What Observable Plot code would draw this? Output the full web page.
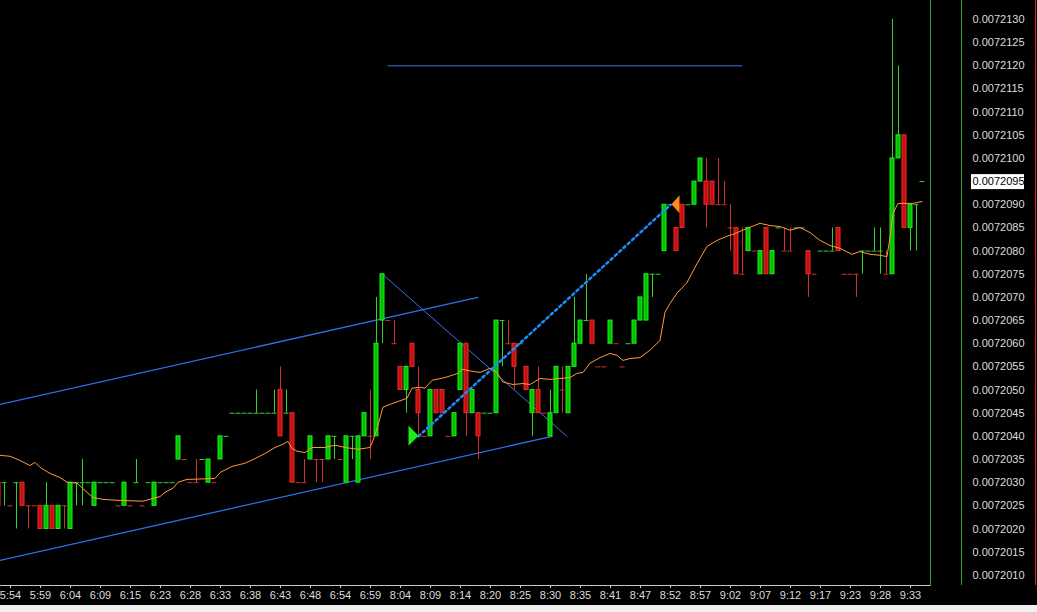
<!DOCTYPE html>
<html><head><meta charset="utf-8">
<script src="https://cdn.jsdelivr.net/npm/d3@7"></script>
<script src="https://cdn.jsdelivr.net/npm/@observablehq/plot@0.6"></script>
<style>
html,body{margin:0;padding:0;background:#f0f0f0;}
#chart svg{display:block;}
</style></head><body><div id="chart"></div>
<script>
// ---- data ----
const firstBar = -1;
const open = [
0.0072030,0.0072030,0.0072025,0.0072030,0.0072030,0.0072025,0.0072025,0.0072025,0.0072020,0.0072025,
0.0072020,0.0072025,0.0072020,0.0072030,0.0072030,0.0072030,0.0072025,0.0072030,0.0072030,0.0072030,
0.0072025,0.0072025,0.0072025,0.0072030,0.0072025,0.0072030,0.0072025,0.0072030,0.0072030,0.0072030,
0.0072035,0.0072035,0.0072030,0.0072030,0.0072035,0.0072030,0.0072030,0.0072035,0.0072040,0.0072045,
0.0072045,0.0072045,0.0072045,0.0072045,0.0072045,0.0072045,0.0072045,0.0072050,0.0072045,0.0072045,
0.0072030,0.0072030,0.0072035,0.0072035,0.0072035,0.0072035,0.0072040,0.0072035,0.0072030,0.0072040,
0.0072030,0.0072040,0.0072040,0.0072040,0.0072065,0.0072065,0.0072060,0.0072055,0.0072050,0.0072060,
0.0072050,0.0072040,0.0072040,0.0072050,0.0072050,0.0072040,0.0072040,0.0072050,0.0072060,0.0072045,
0.0072045,0.0072045,0.0072045,0.0072045,0.0072065,0.0072060,0.0072060,0.0072060,0.0072055,0.0072045,
0.0072050,0.0072045,0.0072040,0.0072045,0.0072050,0.0072045,0.0072055,0.0072060,0.0072065,0.0072065,
0.0072055,0.0072055,0.0072060,0.0072060,0.0072055,0.0072060,0.0072060,0.0072065,0.0072065,0.0072075,
0.0072075,0.0072080,0.0072090,0.0072085,0.0072090,0.0072090,0.0072090,0.0072095,0.0072095,0.0072095,
0.0072090,0.0072090,0.0072085,0.0072085,0.0072075,0.0072080,0.0072080,0.0072075,0.0072085,0.0072075,
0.0072085,0.0072080,0.0072080,0.0072085,0.0072085,0.0072080,0.0072075,0.0072080,0.0072080,0.0072080,
0.0072085,0.0072075,0.0072075,0.0072075,0.0072080,0.0072080,0.0072080,0.0072080,0.0072075,0.0072075,
0.0072100,0.0072105,0.0072085,0.0072090,0.0072095];
const high = [
0.0072030,0.0072030,0.0072025,0.0072030,0.0072030,0.0072025,0.0072025,0.0072025,0.0072030,0.0072025,
0.0072025,0.0072025,0.0072030,0.0072030,0.0072035,0.0072030,0.0072030,0.0072030,0.0072030,0.0072030,
0.0072025,0.0072030,0.0072025,0.0072035,0.0072025,0.0072030,0.0072030,0.0072030,0.0072030,0.0072030,
0.0072040,0.0072035,0.0072030,0.0072035,0.0072035,0.0072035,0.0072030,0.0072040,0.0072040,0.0072045,
0.0072045,0.0072045,0.0072045,0.0072050,0.0072045,0.0072045,0.0072050,0.0072055,0.0072050,0.0072045,
0.0072030,0.0072035,0.0072040,0.0072035,0.0072035,0.0072040,0.0072040,0.0072035,0.0072040,0.0072040,
0.0072040,0.0072045,0.0072050,0.0072070,0.0072075,0.0072065,0.0072065,0.0072055,0.0072055,0.0072060,
0.0072055,0.0072040,0.0072050,0.0072050,0.0072050,0.0072040,0.0072045,0.0072060,0.0072060,0.0072050,
0.0072045,0.0072045,0.0072045,0.0072065,0.0072065,0.0072065,0.0072060,0.0072060,0.0072055,0.0072050,
0.0072055,0.0072045,0.0072050,0.0072055,0.0072055,0.0072055,0.0072070,0.0072065,0.0072075,0.0072065,
0.0072055,0.0072055,0.0072065,0.0072060,0.0072055,0.0072060,0.0072065,0.0072070,0.0072075,0.0072075,
0.0072075,0.0072090,0.0072090,0.0072085,0.0072090,0.0072090,0.0072095,0.0072100,0.0072100,0.0072095,
0.0072100,0.0072095,0.0072090,0.0072085,0.0072085,0.0072085,0.0072080,0.0072080,0.0072085,0.0072080,
0.0072085,0.0072085,0.0072085,0.0072085,0.0072085,0.0072080,0.0072075,0.0072080,0.0072080,0.0072085,
0.0072085,0.0072075,0.0072075,0.0072075,0.0072080,0.0072080,0.0072085,0.0072085,0.0072080,0.0072130,
0.0072120,0.0072105,0.0072090,0.0072090,0.0072095];
const low = [
0.0072025,0.0072025,0.0072025,0.0072020,0.0072025,0.0072020,0.0072025,0.0072020,0.0072020,0.0072020,
0.0072020,0.0072020,0.0072020,0.0072025,0.0072025,0.0072030,0.0072025,0.0072030,0.0072030,0.0072030,
0.0072025,0.0072025,0.0072025,0.0072030,0.0072025,0.0072030,0.0072025,0.0072030,0.0072030,0.0072030,
0.0072035,0.0072035,0.0072030,0.0072030,0.0072035,0.0072030,0.0072030,0.0072035,0.0072040,0.0072045,
0.0072045,0.0072045,0.0072045,0.0072045,0.0072045,0.0072045,0.0072045,0.0072040,0.0072045,0.0072030,
0.0072030,0.0072030,0.0072035,0.0072030,0.0072030,0.0072035,0.0072035,0.0072035,0.0072030,0.0072035,
0.0072030,0.0072040,0.0072035,0.0072040,0.0072060,0.0072065,0.0072060,0.0072050,0.0072045,0.0072055,
0.0072040,0.0072040,0.0072040,0.0072045,0.0072045,0.0072040,0.0072040,0.0072050,0.0072040,0.0072045,
0.0072035,0.0072045,0.0072045,0.0072045,0.0072055,0.0072060,0.0072050,0.0072060,0.0072050,0.0072040,
0.0072045,0.0072045,0.0072040,0.0072045,0.0072045,0.0072045,0.0072055,0.0072060,0.0072065,0.0072060,
0.0072055,0.0072055,0.0072060,0.0072060,0.0072055,0.0072060,0.0072060,0.0072065,0.0072065,0.0072070,
0.0072075,0.0072080,0.0072090,0.0072080,0.0072085,0.0072090,0.0072090,0.0072095,0.0072085,0.0072090,
0.0072090,0.0072090,0.0072080,0.0072075,0.0072075,0.0072080,0.0072080,0.0072075,0.0072075,0.0072075,
0.0072085,0.0072080,0.0072080,0.0072085,0.0072085,0.0072070,0.0072075,0.0072080,0.0072080,0.0072080,
0.0072080,0.0072075,0.0072075,0.0072070,0.0072075,0.0072080,0.0072080,0.0072075,0.0072075,0.0072075,
0.0072100,0.0072085,0.0072080,0.0072080,0.0072095];
const close = [
0.0072025,0.0072030,0.0072025,0.0072030,0.0072025,0.0072025,0.0072025,0.0072020,0.0072025,0.0072020,
0.0072025,0.0072025,0.0072030,0.0072030,0.0072030,0.0072030,0.0072030,0.0072030,0.0072030,0.0072030,
0.0072025,0.0072030,0.0072025,0.0072030,0.0072025,0.0072030,0.0072030,0.0072030,0.0072030,0.0072030,
0.0072040,0.0072035,0.0072030,0.0072030,0.0072035,0.0072035,0.0072030,0.0072040,0.0072040,0.0072045,
0.0072045,0.0072045,0.0072045,0.0072045,0.0072045,0.0072045,0.0072045,0.0072040,0.0072045,0.0072030,
0.0072030,0.0072030,0.0072040,0.0072035,0.0072035,0.0072040,0.0072040,0.0072035,0.0072040,0.0072040,
0.0072040,0.0072045,0.0072040,0.0072060,0.0072075,0.0072065,0.0072060,0.0072050,0.0072055,0.0072055,
0.0072045,0.0072040,0.0072050,0.0072045,0.0072045,0.0072040,0.0072045,0.0072060,0.0072045,0.0072050,
0.0072040,0.0072045,0.0072045,0.0072065,0.0072065,0.0072060,0.0072055,0.0072060,0.0072050,0.0072050,
0.0072045,0.0072045,0.0072045,0.0072055,0.0072050,0.0072055,0.0072060,0.0072065,0.0072065,0.0072060,
0.0072055,0.0072055,0.0072065,0.0072060,0.0072055,0.0072060,0.0072065,0.0072070,0.0072075,0.0072075,
0.0072075,0.0072090,0.0072090,0.0072080,0.0072085,0.0072090,0.0072095,0.0072100,0.0072090,0.0072090,
0.0072090,0.0072090,0.0072085,0.0072075,0.0072075,0.0072085,0.0072080,0.0072080,0.0072075,0.0072080,
0.0072085,0.0072080,0.0072080,0.0072085,0.0072085,0.0072075,0.0072075,0.0072080,0.0072080,0.0072080,
0.0072080,0.0072075,0.0072075,0.0072075,0.0072080,0.0072080,0.0072080,0.0072080,0.0072075,0.0072100,
0.0072105,0.0072085,0.0072090,0.0072090,0.0072095];
const dir = [
"d","u","d","u","d","d","d","d","u","d",
"u","d","u","u","u","u","u","u","u","u",
"d","u","d","u","d","u","u","u","u","u",
"u","d","d","d","u","u","d","u","u","u",
"u","u","u","u","u","u","u","d","u","d",
"d","d","u","d","d","u","u","d","u","u",
"u","u","d","u","u","d","d","d","u","d",
"d","d","u","d","d","d","u","u","d","u",
"d","u","u","u","u","d","d","u","d","u",
"d","d","u","u","d","u","u","u","u","d",
"d","d","u","d","d","u","u","u","u","u",
"u","u","u","d","d","u","u","u","d","d",
"d","d","d","d","d","u","d","u","d","u",
"u","d","d","u","u","d","d","u","u","u",
"d","d","d","d","u","u","u","u","d","u",
"u","d","u","u","u"];

// moving average (bar position, price)
const maBar = [-0.75,0.92,2.58,4.25,5.08,5.92,7.58,9.25,10.42,12.08,13.42,14.75,16.42,18.75,23.08,24.75,25.92,26.75,28.08,28.92,30.42,35.08,35.92,37.92,40.08,41.75,43.42,45.08,46.42,47.25,47.92,48.75,50.08,51.25,53.42,55.08,56.75,58.92,60.92,61.42,62.25,63.08,65.08,67.08,67.92,69.25,70.08,71.25,73.42,75.58,76.25,77.25,79.25,80.92,82.08,83.08,84.75,86.42,87.58,89.25,90.92,94.25,95.42,96.42,97.58,99.25,100.92,102.08,103.08,104.25,105.92,107.58,109.25,110.08,110.92,112.08,113.75,115.42,117.08,118.75,120.42,121.42,123.75,125.92,127.58,129.25,130.92,132.58,134.25,135.92,137.58,139.25,141.25,142.58,144.25,145.92,147.08,147.58,148.08,148.92,150.42,151.42,152.92];
const maPrice = [0.00720359,0.00720357,0.00720348,0.00720337,0.00720344,0.00720333,0.00720320,0.00720311,0.00720301,0.00720299,0.00720283,0.00720268,0.00720264,0.00720262,0.00720260,0.00720266,0.00720270,0.00720279,0.00720288,0.00720301,0.00720307,0.00720309,0.00720322,0.00720335,0.00720342,0.00720352,0.00720363,0.00720376,0.00720383,0.00720389,0.00720374,0.00720368,0.00720365,0.00720376,0.00720376,0.00720381,0.00720376,0.00720372,0.00720376,0.00720391,0.00720424,0.00720463,0.00720473,0.00720482,0.00720504,0.00720506,0.00720504,0.00720521,0.00720527,0.00720536,0.00720545,0.00720542,0.00720538,0.00720547,0.00720538,0.00720517,0.00720512,0.00720514,0.00720512,0.00720525,0.00720523,0.00720527,0.00720536,0.00720538,0.00720558,0.00720570,0.00720579,0.00720575,0.00720564,0.00720568,0.00720570,0.00720586,0.00720607,0.00720668,0.00720687,0.00720709,0.00720732,0.00720773,0.00720810,0.00720823,0.00720832,0.00720836,0.00720849,0.00720860,0.00720855,0.00720853,0.00720845,0.00720851,0.00720840,0.00720823,0.00720812,0.00720806,0.00720793,0.00720799,0.00720793,0.00720791,0.00720788,0.00720829,0.00720881,0.00720903,0.00720903,0.00720903,0.00720907];

// drawn objects (bar, price)
const lowerChannelBar = [-0.75, 91.25], lowerChannelPrice = [0.00720132, 0.0072040];
const upperChannelBar = [-0.75, 78.9], upperChannelPrice = [0.00720469, 0.0072070];
const diagonalBar = [63, 93.75], diagonalPrice = [0.0072075, 0.0072040];
const levelBar = [63.9, 122.9], levelPrice = [0.0072120, 0.0072120];
const tradeBar = [69, 111], tradePrice = [0.0072040, 0.0072090];
const currentPrice = 0.0072095;

// axis ticks
const tickBars = [1,6,11,16,21,26,31,36,41,46,51,56,61,66,71,76,81,86,91,96,101,106,111,116,121,126,131,136,141,146,151];
const tickTimes = ["5:54","5:59","6:04","6:09","6:15","6:23","6:28","6:33","6:38","6:43","6:48","6:54","6:59","8:04","8:09","8:14","8:20","8:25","8:30","8:35","8:41","8:47","8:52","8:57","9:02","9:07","9:12","9:17","9:23","9:28","9:33"];
const priceTicks = [0.0072010,0.0072015,0.0072020,0.0072025,0.0072030,0.0072035,0.0072040,0.0072045,0.0072050,0.0072055,0.0072060,0.0072065,0.0072070,0.0072075,0.0072080,0.0072085,0.0072090,0.0072095,0.0072100,0.0072105,0.0072110,0.0072115,0.0072120,0.0072125,0.0072130];

// ---- build ----
const candles = open.map((o, j) => ({bar: firstBar + j, open: o, high: high[j], low: low[j], close: close[j], up: dir[j] === "u"}));
const bodies = candles.filter(d => d.open !== d.close);
const dojis = candles.filter(d => d.open === d.close);
const C = {gFill: "#00c000", gEdge: "#19f019", gWick: "#2fd22f", rFill: "#c01010", rEdge: "#f02828", rWick: "#d23030"};
const ma = maBar.map((b, j) => ({bar: b, price: maPrice[j]}));
const pairs = (id, bs, ps) => bs.map((b, j) => ({id, bar: b, price: ps[j]}));
const channels = [...pairs("lo", lowerChannelBar, lowerChannelPrice), ...pairs("up", upperChannelBar, upperChannelPrice)];
const thin = [...pairs("diag", diagonalBar, diagonalPrice), ...pairs("lvl", levelBar, levelPrice)];
const trade = pairs("trade", tradeBar, tradePrice);
const timeOf = new Map(tickBars.map((b, j) => [b, tickTimes[j]]));
const half = 1/6;
const font = "'Liberation Sans', Arial, sans-serif";

const plot = Plot.plot({
  width: 1037, height: 605,
  marginTop: 0, marginRight: 107, marginBottom: 20, marginLeft: 0,
  style: {background: "#000", color: "#dcdcdc", fontFamily: font, fontSize: "11px"},
  x: {domain: [-2/3, 926/6], axis: null},
  y: {domain: [0.00720078, 0.00721341], axis: null},
  color: {type: "identity"},
  marks: [
    Plot.frame({anchor: "bottom", stroke: "#c8c8c8"}),
    Plot.frame({anchor: "right", stroke: "#2e9e2e"}),
    Plot.axisX(tickBars, {tickFormat: d => timeOf.get(d), tickSize: 3, tickPadding: 3, stroke: "#c8c8c8", fill: "#dcdcdc", label: null}),
    Plot.axisY(priceTicks.filter(d => d !== currentPrice), {anchor: "right", tickSize: 0, tickPadding: 42, textAnchor: "start", tickFormat: d => d.toFixed(7), fill: "#dcdcdc", label: null}),
    Plot.line(channels, {x: "bar", y: "price", z: "id", stroke: "#2f6fe6", strokeWidth: 1.3}),
    Plot.line(thin, {x: "bar", y: "price", z: "id", stroke: "#3a72e0", strokeWidth: 1}),
    Plot.ruleX(candles, {x: "bar", y1: "low", y2: "high", stroke: d => d.up ? C.gWick : C.rWick}),
    Plot.rect(bodies, {x1: d => d.bar - 2*half, x2: d => d.bar + 2*half, y1: "open", y2: "close",
      fill: d => d.up ? C.gFill : C.rFill, stroke: d => d.up ? C.gEdge : C.rEdge, strokeWidth: 1}),
    Plot.ruleY(dojis, {y: "close", x1: d => d.bar - 2.5*half, x2: d => d.bar + 2.5*half, stroke: d => d.up ? C.gWick : C.rWick}),
    Plot.line(ma, {x: "bar", y: "price", stroke: "#ff9a3c", strokeWidth: 1}),
    Plot.line(trade, {x: "bar", y: "price", stroke: "#1e8cff", strokeWidth: 2.5, strokeDasharray: "2.5 3.3"})
  ]
});

const sx = plot.scale("x"), sy = plot.scale("y");
const svg = d3.select(plot);
const bottom = 605 - 20;
svg.append("line").attr("x1", 961.5).attr("x2", 961.5).attr("y1", 0).attr("y2", bottom).attr("stroke", "#2e9e2e");
svg.append("line").attr("x1", 1035.5).attr("x2", 1035.5).attr("y1", 0).attr("y2", bottom).attr("stroke", "#c83232");
// trade arrows
const bx = sx.apply(tradeBar[0]) + 0.5, by = sy.apply(tradePrice[0]);
svg.append("path").attr("d", `M${bx},${by}L${bx-10},${by-10}L${bx-10},${by+10}Z`).attr("fill", "#19f019");
const ex = sx.apply(tradeBar[1]) + 1.5, ey = sy.apply(tradePrice[1]);
svg.append("path").attr("d", `M${ex},${ey}L${ex+8},${ey-9}L${ex+8},${ey+9}Z`).attr("fill", "#ff8a1c");
// current price label
const cy = sy.apply(currentPrice) + 0.5;
svg.append("rect").attr("x", 971).attr("y", cy - 7.5).attr("width", 53).attr("height", 15).attr("fill", "#fff");
svg.append("text").attr("x", 972.5).attr("y", cy).attr("dy", "0.32em").attr("fill", "#000").attr("text-anchor", "start")
  .attr("font-family", font).attr("font-size", 11).text(currentPrice.toFixed(7));
document.getElementById("chart").append(plot);
</script></body></html>
